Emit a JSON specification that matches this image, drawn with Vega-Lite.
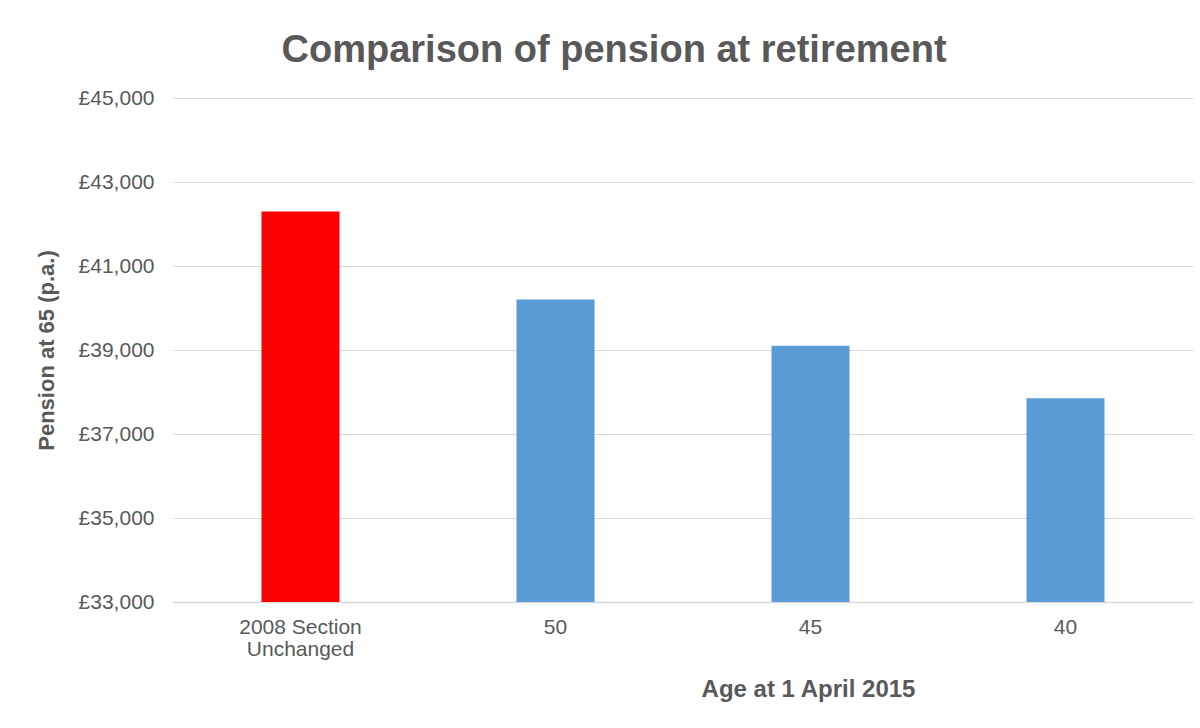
{
  "$schema": "https://vega.github.io/schema/vega-lite/v6.json",
  "width": 1020,
  "height": 504,
  "padding": {"left": 35, "top": 32, "right": 5, "bottom": 20},
  "background": "white",
  "title": {
    "text": "Comparison of pension at retirement",
    "font": "Liberation Sans",
    "fontSize": 38,
    "fontWeight": "bold",
    "color": "#595959",
    "frame": "bounds",
    "anchor": "middle",
    "offset": 17
  },
  "data": {
    "values": [
      {"category": "2008 Section Unchanged", "group": "2008 Section", "pension": 42300},
      {"category": "50", "group": "Reformed", "pension": 40200},
      {"category": "45", "group": "Reformed", "pension": 39100},
      {"category": "40", "group": "Reformed", "pension": 37850}
    ]
  },
  "mark": {"type": "bar"},
  "encoding": {
    "x": {
      "field": "category",
      "type": "nominal",
      "sort": null,
      "title": "Age at 1 April 2015",
      "scale": {"paddingInner": 0.694, "paddingOuter": 0.347},
      "axis": {
        "labelAngle": 0,
        "labelFont": "Liberation Sans",
        "labelFontSize": 21,
        "labelColor": "#595959",
        "labelPadding": 14,
        "labelLineHeight": 22,
        "labelExpr": "datum.value === '2008 Section Unchanged' ? ['2008 Section', 'Unchanged'] : datum.value",
        "ticks": false,
        "domain": true,
        "domainColor": "#d9d9d9",
        "domainWidth": 1.5,
        "grid": false,
        "titleFont": "Liberation Sans",
        "titleFontSize": 24,
        "titleFontWeight": "bold",
        "titleColor": "#595959",
        "titlePadding": 18,
        "titleX": 635,
        "titleAlign": "center"
      }
    },
    "y": {
      "field": "pension",
      "type": "quantitative",
      "title": "Pension at 65 (p.a.)",
      "scale": {"domain": [33000, 45000], "zero": false, "nice": false},
      "axis": {
        "values": [33000, 35000, 37000, 39000, 41000, 43000, 45000],
        "labelExpr": "'£' + format(datum.value, ',')",
        "labelFont": "Liberation Sans",
        "labelFontSize": 21,
        "labelColor": "#595959",
        "labelPadding": 19,
        "ticks": false,
        "domain": false,
        "grid": true,
        "gridColor": "#d9d9d9",
        "gridWidth": 1,
        "titleFont": "Liberation Sans",
        "titleFontSize": 22,
        "titleFontWeight": "bold",
        "titleColor": "#595959",
        "titlePadding": 20
      }
    },
    "y2": {"datum": 33000},
    "color": {
      "field": "group",
      "type": "nominal",
      "scale": {"domain": ["2008 Section", "Reformed"], "range": ["#FF0000", "#5B9BD5"]},
      "legend": null
    }
  },
  "config": {
    "view": {"stroke": null}
  }
}
